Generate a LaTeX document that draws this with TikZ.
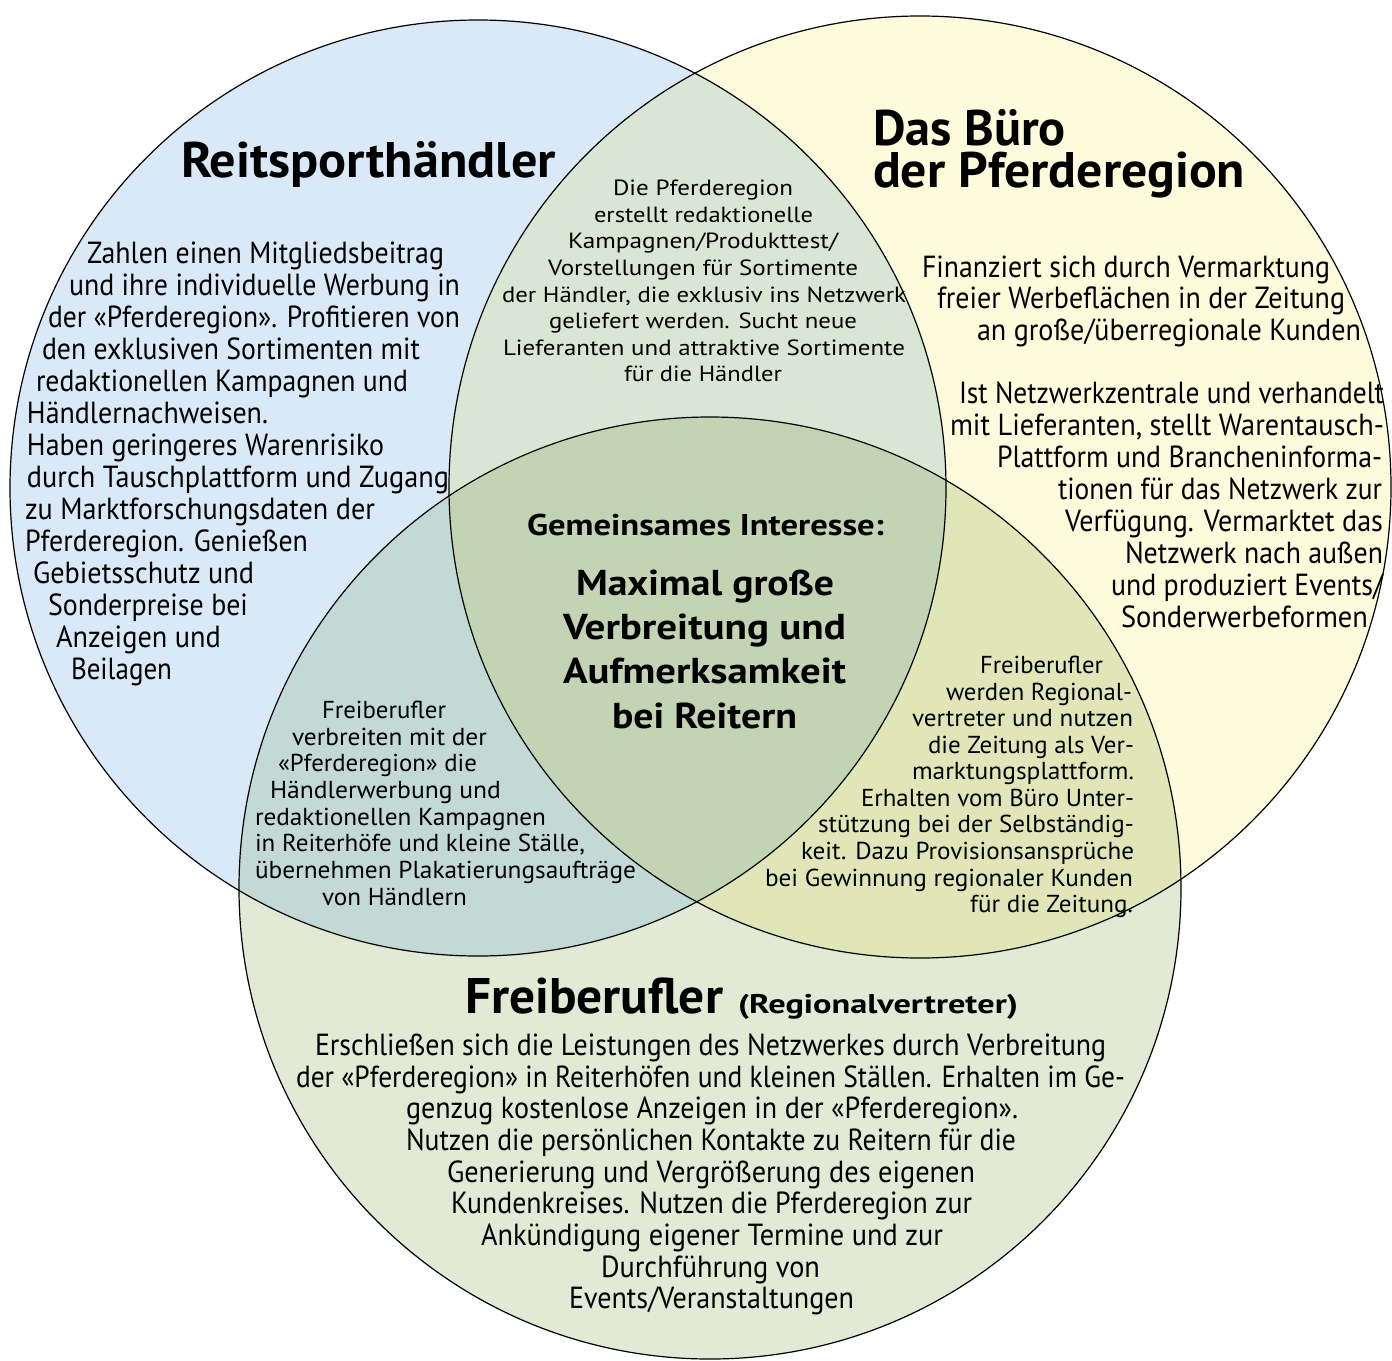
\documentclass[tikz,border=0pt]{standalone}
\usepackage{fontspec}
\usepackage{graphicx}
\setmainfont{PT Sans}
\newfontfamily\cnd[FakeStretch=0.8]{PT Sans}
\definecolor{cBlue}{HTML}{DAE9F7}
\definecolor{cYel}{HTML}{FEFADC}
\definecolor{cGrn}{HTML}{E2E9D5}
\definecolor{cBY}{HTML}{D9E6D4}
\definecolor{cBG}{HTML}{C2D9D5}
\definecolor{cYG}{HTML}{E1E6B8}
\definecolor{cAll}{HTML}{C2D4B4}
\newcommand\Ln[5]{\node[#1] (#2) at (#3) {\resizebox{#4pt}{\height}{#5}};}
\newcommand\Fit[2]{\resizebox{#1pt}{\height}{#2}}
\tikzset{
  txt/.style={anchor=base west, inner sep=0pt, outer sep=0pt, text=black},
  bodyL/.style={txt, font=\cnd\fontsize{30.5}{32}\selectfont},
  small/.style={txt, font=\cnd\fontsize{24.5}{26}\selectfont},
  topt/.style={txt, font=\fontsize{22}{26}\selectfont},
  title/.style={txt, font=\cnd\bfseries\fontsize{50}{50}\selectfont},
  subt/.style={txt, font=\cnd\bfseries\fontsize{27}{27}\selectfont},
  gem/.style={txt, font=\cnd\bfseries\fontsize{30}{30}\selectfont},
  maxi/.style={txt, font=\cnd\bfseries\fontsize{36}{36}\selectfont},
  ring/.style={draw=black, line width=1.2pt}
}
\begin{document}
\begin{tikzpicture}[x=1pt,y=-1pt]
\useasboundingbox (0,0) rectangle (1392,1360);
\coordinate (cB) at (478,488);
\coordinate (cY) at (920,487);
\coordinate (cG) at (710,888);
% fills
\fill[cBlue] (cB) circle (468pt);
\fill[cYel] (cY) circle (471pt);
\fill[cGrn] (cG) circle (471pt);
\begin{scope}\clip (cB) circle (468pt); \fill[cBY] (cY) circle (471pt);\end{scope}
\begin{scope}\clip (cB) circle (468pt); \fill[cBG] (cG) circle (471pt);\end{scope}
\begin{scope}\clip (cY) circle (471pt); \fill[cYG] (cG) circle (471pt);\end{scope}
\begin{scope}\clip (cB) circle (468pt); \clip (cY) circle (471pt); \fill[cAll] (cG) circle (471pt);\end{scope}
% outlines
\draw[ring] (cB) circle (468pt);
\draw[ring] (cY) circle (471pt);
\draw[ring] (cG) circle (471pt);

% titles
\Ln{title}{tR}{181,177}{375}{Reitsporthändler}
\node[title] (tB) at (873,145) {\vtop{\baselineskip=42pt\lineskiplimit=-100pt
  \hbox{\Fit{193}{Das Büro}}\hbox{\Fit{372}{der Pferderegion}}}};
\Ln{title}{tF}{465,1013}{258}{Freiberufler}
\Ln{subt}{tFs}{738,1013}{280}{(Regionalvertreter)}

% center
\Ln{gem}{c0}{527,535}{357}{Gemeinsames Interesse:}
\Ln{maxi}{c1}{576,595}{258}{Maximal große}
\Ln{maxi}{c2}{563,639}{283}{Verbreitung und}
\Ln{maxi}{c3}{563,683}{283}{Aufmerksamkeit}
\Ln{maxi}{c4}{612,728}{185}{bei Reitern}

% top middle
\Ln{topt}{m1}{613,195.5}{180}{Die Pferderegion}
\Ln{topt}{m2}{594,222}{219}{erstellt redaktionelle}
\Ln{topt}{m3}{568,248.5}{270}{Kampagnen/Produkttest/}
\Ln{topt}{m4}{548,275}{310}{Vorstellungen für Sortimente}
\Ln{topt}{m5}{502,302}{404}{der Händler, die exklusiv ins Netzwerk}
\Ln{topt}{m6}{549,328.5}{308}{geliefert werden. Sucht neue}
\Ln{topt}{m7}{503,355}{402}{Lieferanten und attraktive Sortimente}
\Ln{topt}{m8}{624,381.5}{158}{für die Händler}

% blue body
\Ln{bodyL}{b1}{87,263}{357}{Zahlen einen Mitgliedsbeitrag}
\Ln{bodyL}{b2}{69,295}{391}{und ihre individuelle Werbung in}
\Ln{bodyL}{b3}{48,327}{412}{der «Pferderegion». Profitieren von}
\Ln{bodyL}{b4}{42,359}{378}{den exklusiven Sortimenten mit}
\Ln{bodyL}{b5}{36,391}{372}{redaktionellen Kampagnen und}
\Ln{bodyL}{b6}{27,423}{241}{Händlernachweisen.}
\Ln{bodyL}{b7}{27,455}{357}{Haben geringeres Warenrisiko}
\Ln{bodyL}{b8}{27,487}{422}{durch Tauschplattform und Zugang}
\Ln{bodyL}{b9}{25,519}{350}{zu Marktforschungsdaten der}
\Ln{bodyL}{b10}{25,551}{283}{Pferderegion. Genießen}
\Ln{bodyL}{b11}{33,583}{221}{Gebietsschutz und}
\Ln{bodyL}{b12}{48,615}{200}{Sonderpreise bei}
\Ln{bodyL}{b13}{56,647}{165}{Anzeigen und}
\Ln{bodyL}{b14}{71,679}{101}{Beilagen}

% yellow body
\Ln{bodyL}{y1}{922,277}{408}{Finanziert sich durch Vermarktung}
\Ln{bodyL}{y2}{937,308}{408}{freier Werbeflächen in der Zeitung}
\Ln{bodyL}{y3}{977,340}{384}{an große/überregionale Kunden}
\Ln{bodyL}{y4}{959,403}{425}{Ist Netzwerkzentrale und verhandelt}
\Ln{bodyL}{y5}{950,435}{434}{mit Lieferanten, stellt Warentausch-}
\Ln{bodyL}{y6}{997,467}{385}{Plattform und Brancheninforma-}
\Ln{bodyL}{y7}{1058,499}{324}{tionen für das Netzwerk zur}
\Ln{bodyL}{y8}{1065,531}{318}{Verfügung. Vermarktet das}
\Ln{bodyL}{y9}{1125,563}{258}{Netzwerk nach außen}
\Ln{bodyL}{y10}{1111,595}{272}{und produziert Events/}
\Ln{bodyL}{y11}{1121,627}{247}{Sonderwerbeformen}

% left intersection
\Ln{small}{l1}{322,718}{124}{Freiberufler}
\Ln{small}{l2}{292,745}{195}{verbreiten mit der}
\Ln{small}{l3}{278,771}{199}{«Pferderegion» die}
\Ln{small}{l4}{270,798}{231}{Händlerwerbung und}
\Ln{small}{l5}{255,825}{291}{redaktionellen Kampagnen}
\Ln{small}{l6}{255,851}{330}{in Reiterhöfe und kleine Ställe,}
\Ln{small}{l7}{255,878}{381}{übernehmen Plakatierungsaufträge}
\Ln{small}{l8}{322,905}{145}{von Händlern}

% right intersection
\Ln{small}{r1}{980,673}{123}{Freiberufler}
\Ln{small}{r2}{946,700}{186}{werden Regional-}
\Ln{small}{r3}{912,726}{221}{vertreter und nutzen}
\Ln{small}{r4}{928,753}{206}{die Zeitung als Ver-}
\Ln{small}{r5}{912,779}{222}{marktungsplattform.}
\Ln{small}{r6}{861,806}{273}{Erhalten vom Büro Unter-}
\Ln{small}{r7}{818,832}{316}{stützung bei der Selbständig-}
\Ln{small}{r8}{801,859}{333}{keit. Dazu Provisionsansprüche}
\Ln{small}{r9}{765,886}{368}{bei Gewinnung regionaler Kunden}
\Ln{small}{r10}{970,912}{163}{für die Zeitung.}

% bottom body
\Ln{bodyL}{g1}{315,1055}{791}{Erschließen sich die Leistungen des Netzwerkes durch Verbreitung}
\Ln{bodyL}{g2}{296,1087}{829}{der «Pferderegion» in Reiterhöfen und kleinen Ställen. Erhalten im Ge-}
\Ln{bodyL}{g3}{406,1118}{612}{genzug kostenlose Anzeigen in der «Pferderegion».}
\Ln{bodyL}{g4}{406,1150}{610}{Nutzen die persönlichen Kontakte zu Reitern für die}
\Ln{bodyL}{g5}{447,1182}{528}{Generierung und Vergrößerung des eigenen}
\Ln{bodyL}{g6}{451,1213}{521}{Kundenkreises. Nutzen die Pferderegion zur}
\Ln{bodyL}{g7}{481,1245}{462}{Ankündigung eigener Termine und zur}
\Ln{bodyL}{g8}{601,1277}{219}{Durchführung von}
\Ln{bodyL}{g9}{569,1308}{285}{Events/Veranstaltungen}
\end{tikzpicture}
\end{document}
